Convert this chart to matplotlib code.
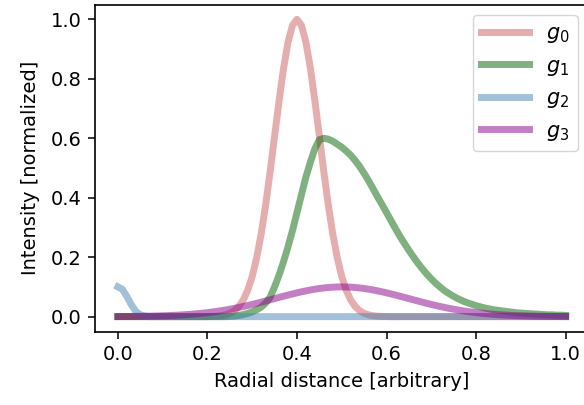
import numpy as np
import matplotlib
matplotlib.use('Agg')
import matplotlib.pyplot as plt

# Distancia radial (101 puntos entre 0 y 1)
x = np.linspace(0, 1, 101)

# Curvas
g0 = [0, 0, 0, 0, 0, 0, 0, 0, 0, 0,
      0, 0, 0, 0, 0, 0, 0, 0, 0, 0,
      0.0003, 0.0007, 0.0015, 0.003, 0.006, 0.011, 0.020, 0.034, 0.056, 0.089,
      0.135, 0.198, 0.278, 0.375, 0.487, 0.607, 0.726, 0.835, 0.923, 0.980,
      1.0, 0.980, 0.923, 0.835, 0.726, 0.607, 0.487, 0.375, 0.278, 0.198,
      0.135, 0.089, 0.056, 0.034, 0.020, 0.011, 0.006, 0.003, 0.0015, 0.0007,
      0.0003, 0, 0, 0, 0, 0, 0, 0, 0, 0,
      0, 0, 0, 0, 0, 0, 0, 0, 0, 0,
      0, 0, 0, 0, 0, 0, 0, 0, 0, 0,
      0, 0, 0, 0, 0, 0, 0, 0, 0, 0,
      0]

g1 = [0, 0, 0, 0, 0, 0, 0, 0, 0, 0,
      0, 0, 0, 0, 0, 0, 0, 0, 0, 0,
      0, 0, 0, 0, 0, 0.001, 0.002, 0.004, 0.007, 0.011,
      0.016, 0.023, 0.032, 0.046, 0.065, 0.10, 0.14, 0.185, 0.235, 0.29,
      0.35, 0.41, 0.47, 0.52, 0.565, 0.595, 0.60, 0.597, 0.59, 0.58,
      0.57, 0.557, 0.543, 0.525, 0.505, 0.482, 0.457, 0.43, 0.403, 0.377,
      0.35, 0.323, 0.296, 0.27, 0.246, 0.223, 0.201, 0.18, 0.161, 0.143,
      0.127, 0.112, 0.099, 0.087, 0.077, 0.068, 0.06, 0.053, 0.047, 0.042,
      0.037, 0.033, 0.029, 0.026, 0.023, 0.021, 0.019, 0.017, 0.015, 0.013,
      0.012, 0.011, 0.010, 0.009, 0.008, 0.007, 0.006, 0.006, 0.005, 0.005,
      0.004]

g2 = [0.1, 0.092, 0.068, 0.04, 0.018, 0.006, 0.002, 0, 0, 0,
      0, 0, 0, 0, 0, 0, 0, 0, 0, 0,
      0, 0, 0, 0, 0, 0, 0, 0, 0, 0,
      0, 0, 0, 0, 0, 0, 0, 0, 0, 0,
      0, 0, 0, 0, 0, 0, 0, 0, 0, 0,
      0, 0, 0, 0, 0, 0, 0, 0, 0, 0,
      0, 0, 0, 0, 0, 0, 0, 0, 0, 0,
      0, 0, 0, 0, 0, 0, 0, 0, 0, 0,
      0, 0, 0, 0, 0, 0, 0, 0, 0, 0,
      0, 0, 0, 0, 0, 0, 0, 0, 0, 0,
      0]

g3 = [0.0004, 0.0005, 0.0006, 0.0007, 0.0009, 0.0011, 0.0014, 0.0016, 0.0020, 0.0024,
      0.0029, 0.0034, 0.0040, 0.0048, 0.0056, 0.0066, 0.0077, 0.0089, 0.0103, 0.0118,
      0.0135, 0.0154, 0.0175, 0.0198, 0.0223, 0.0249, 0.0278, 0.0309, 0.0341, 0.0375,
      0.0411, 0.0448, 0.0487, 0.0526, 0.0566, 0.0607, 0.0647, 0.0687, 0.0726, 0.0764,
      0.0801, 0.0835, 0.0867, 0.0897, 0.0923, 0.0946, 0.0965, 0.0980, 0.0991, 0.0998,
      0.1,
      0.0998, 0.0991, 0.0980, 0.0965, 0.0946, 0.0923, 0.0897, 0.0867, 0.0835, 0.0801,
      0.0764, 0.0726, 0.0687, 0.0647, 0.0607, 0.0566, 0.0526, 0.0487, 0.0448, 0.0411,
      0.0375, 0.0341, 0.0309, 0.0278, 0.0249, 0.0223, 0.0198, 0.0175, 0.0154, 0.0135,
      0.0118, 0.0103, 0.0089, 0.0077, 0.0066, 0.0056, 0.0048, 0.0040, 0.0034, 0.0029,
      0.0024, 0.0020, 0.0016, 0.0014, 0.0011, 0.0009, 0.0007, 0.0006, 0.0005, 0.0004]

labels = ['$g_0$', '$g_1$', '$g_2$', '$g_3$']
colors = ['indianred', 'darkgreen', 'steelblue', 'darkmagenta']

fig = plt.figure(figsize=(5.84, 4.05), dpi=100)
ax = fig.add_axes([95.5 / 584, (405 - 331.5) / 405, (588 - 95.5) / 584, (331.5 - 4.5) / 405])

for g, lab, c in zip([g0, g1, g2, g3], labels, colors):
    ax.plot(x, g, color=c, alpha=0.5, lw=5, label=lab)

ax.set_xlabel('Radial distance [arbitrary]', fontsize=14, labelpad=5.6)
ax.set_ylabel('Intensity [normalized]', fontsize=14, labelpad=8)
ax.tick_params(labelsize=14, length=4.9, width=1.1, pad=4.9)
for s in ax.spines.values():
    s.set_linewidth(1.2)
ax.legend(loc='upper right', fontsize=15, handlelength=2.3)

fig.savefig('out.png', dpi=100)
